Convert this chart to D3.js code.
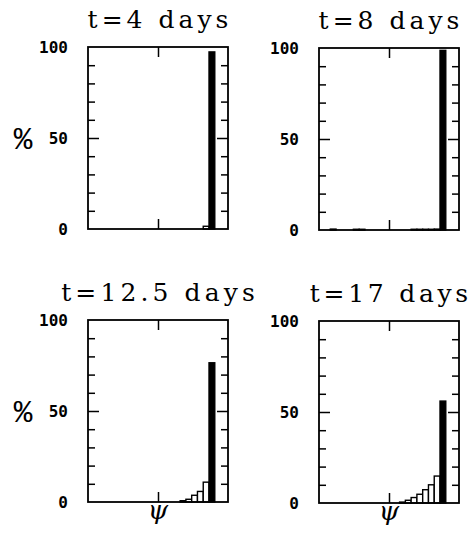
<!DOCTYPE html>
<html>
<head>
<meta charset="utf-8">
<script src="https://cdn.jsdelivr.net/npm/d3@7/dist/d3.min.js"></script>
<style>
  html, body { margin: 0; padding: 0; background: #fff; }
  svg { display: block; }
</style>
</head>
<body>
<svg id="chart" width="469" height="533"></svg>
<script>
// ---- data ----
const titles = ["t=4 days", "t=8 days", "t=12.5 days", "t=17 days"];
// bin centres of psi (x axis runs from -1 to 1, centre tick at 0)
const psiBins = [-0.9625, -0.88, -0.7975, -0.715, -0.6325, -0.55, -0.4675, -0.385,
                 -0.3025, -0.22, -0.1375, -0.055, 0.0275, 0.11, 0.1925, 0.275,
                 0.3575, 0.44, 0.5225, 0.605, 0.6875, 0.77];
const binWidth = 0.0825;
// percentage in each bin
const pct4   = [0, 0, 0, 0, 0, 0, 0, 0, 0, 0, 0, 0, 0, 0, 0, 0, 0, 0, 0, 0, 1.5, 97.3];
const pct8   = [0, 0, 0.5, 0, 0, 0, 0.4, 0.4, 0, 0, 0, 0, 0, 0, 0, 0, 0.4, 0.4, 0.4, 0.4, 0.5, 98.7];
const pct125 = [0, 0, 0, 0, 0, 0, 0, 0, 0, 0, 0, 0, 0, 0, 0, 0, 0.7, 1.5, 3.7, 5.8, 10.9, 76.5];
const pct17  = [0, 0, 0, 0, 0, 0, 0, 0, 0, 0, 0, 0, 0, 0, 0.5, 1.5, 3.0, 4.8, 7.3, 10.0, 14.8, 56.0];
const series = [pct4, pct8, pct125, pct17];
const yTickLabels = [0, 50, 100];
const yMinorTicks = [10, 20, 30, 40, 60, 70, 80, 90];
const yMajorTicks = [50];
const xTicks = [0];

// ---- layout ----
const W = 140, H = 182;
const origins = [[88, 47], [319, 48], [88, 320], [319, 321]];
const showPercent = [true, false, true, false];
const showPsi = [false, false, true, true];

const svg = d3.select("#chart");
const x = d3.scaleLinear().domain([-1, 1]).range([0, W]);
const y = d3.scaleLinear().domain([0, 100]).range([H, 0]);

series.forEach((vals, p) => {
  const [ox, oy] = origins[p];
  const g = svg.append("g").attr("transform", `translate(${ox},${oy})`);

  // bars
  const data = psiBins.map((c, i) => ({c, v: vals[i], last: i === psiBins.length - 1}))
                      .filter(d => d.v > 0);
  g.selectAll("rect.bar").data(data).join("rect")
    .attr("class", "bar")
    .attr("x", d => x(d.c - binWidth / 2))
    .attr("width", d => x(d.c + binWidth / 2) - x(d.c - binWidth / 2))
    .attr("y", d => y(d.v))
    .attr("height", d => y(0) - y(d.v))
    .attr("fill", d => d.last ? "#000" : "#fff")
    .attr("stroke", "#000")
    .attr("stroke-width", 1.4);

  // ticks (inward) on all four sides
  const tickStyle = sel => { sel.select(".domain").remove(); sel.selectAll("line").attr("stroke", "#000").attr("stroke-width", 1.5); };
  g.append("g").call(d3.axisLeft(y).tickValues(yMinorTicks).tickSize(-7).tickFormat("")).call(tickStyle);
  g.append("g").call(d3.axisLeft(y).tickValues(yMajorTicks).tickSize(-11).tickFormat("")).call(tickStyle);
  g.append("g").attr("transform", `translate(${W},0)`)
    .call(d3.axisRight(y).tickValues(yMinorTicks).tickSize(-7).tickFormat("")).call(tickStyle);
  g.append("g").attr("transform", `translate(${W},0)`)
    .call(d3.axisRight(y).tickValues(yMajorTicks).tickSize(-11).tickFormat("")).call(tickStyle);
  g.append("g").call(d3.axisTop(x).tickValues(xTicks).tickSize(-10).tickFormat("")).call(tickStyle);
  g.append("g").attr("transform", `translate(0,${H})`)
    .call(d3.axisBottom(x).tickValues(xTicks).tickSize(-10).tickFormat("")).call(tickStyle);

  // frame
  g.append("rect").attr("x", 0).attr("y", 0).attr("width", W).attr("height", H)
    .attr("fill", "none").attr("stroke", "#000").attr("stroke-width", 1.8);

  // y labels
  const lab = g.append("g").call(d3.axisLeft(y).tickValues(yTickLabels).tickSize(0).tickPadding(20));
  lab.select(".domain").remove();
  lab.selectAll("text")
    .attr("font-family", "'DejaVu Sans Mono', monospace")
    .attr("font-weight", "bold")
    .attr("font-size", 16)
    .attr("fill", "#000");

  // title
  const t = titles[p];
  g.append("text")
    .attr("x", W / 2).attr("y", -19)
    .attr("text-anchor", "middle")
    .attr("font-family", "'DejaVu Serif', serif")
    .attr("font-size", 25)
    .attr("textLength", t.length * 17.6)
    .attr("lengthAdjust", "spacing")
    .attr("fill", "#000")
    .text(t);

  if (showPercent[p]) {
    g.append("text")
      .attr("x", -65).attr("y", H / 2)
      .attr("dy", "0.35em")
      .attr("text-anchor", "middle")
      .attr("font-family", "'Liberation Mono', monospace")
      .attr("font-size", 31)
      .attr("fill", "#000")
      .text("%");
  }
  if (showPsi[p]) {
    g.append("text")
      .attr("x", W / 2).attr("y", H + 17)
      .attr("text-anchor", "middle")
      .attr("font-family", "'DejaVu Serif', serif")
      .attr("font-style", "italic")
      .attr("font-size", 26)
      .attr("fill", "#000")
      .text("ψ");
  }
});
</script>
</body>
</html>
